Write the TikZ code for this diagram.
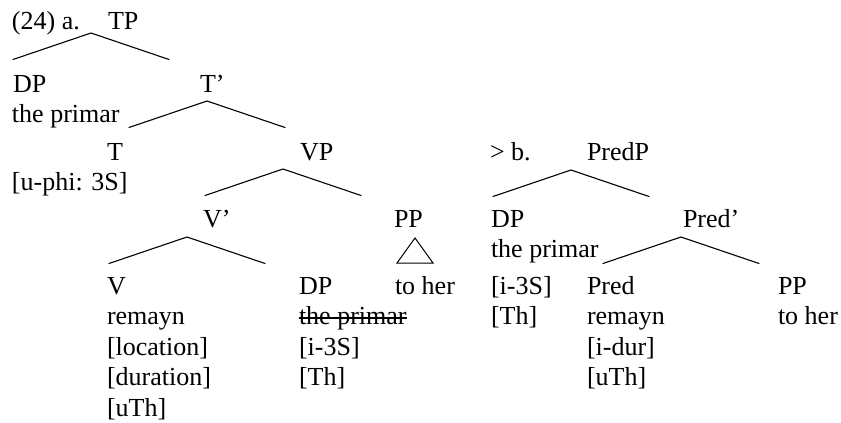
\documentclass[tikz,border=0pt]{standalone}
\usepackage{fontspec}
\setmainfont{Liberation Serif}
\begin{document}
\begin{tikzpicture}[x=1pt,y=-1pt,
  lbl/.style={anchor=base west, inner sep=0pt, outer sep=0pt, font=\fontsize{26}{30}\selectfont},
  branch/.style={line width=1.1pt, line cap=round, line join=miter},
  strike/.style={line width=1.3pt},
  tri/.style={line width=1pt, line join=miter}]
\useasboundingbox (0,0) rectangle (841,423);

% ---------- tree (a) ----------
\node[lbl] (exa)  at (12,29)  {(24) a.};
\node[lbl] (tp)   at (108,29) {TP};
\node[lbl] (dpA)  at (13,92)  {DP};
\node[lbl] (dpAw) at (12,122.5) {the primar};
\node[lbl] (tbar) at (200,92) {T’};
\node[lbl] (t)    at (107,160) {T};
\node[lbl] (tf)   at (12,190.5) {[u-phi: 3S]};
\node[lbl] (vp)   at (300,160) {VP};
\node[lbl] (vbar) at (203,227) {V’};
\node[lbl] (ppA)  at (394,227) {PP};
\node[lbl] (ppAw) at (395,294) {to her};
\node[lbl] (v)    at (107,294) {V};
\node[lbl] (v1)   at (107,324.5) {remayn};
\node[lbl] (v2)   at (107,355) {[location]};
\node[lbl] (v3)   at (107,385.5) {[duration]};
\node[lbl] (v4)   at (107,416) {[uTh]};
\node[lbl] (dpT)  at (299,294) {DP};
\node[lbl] (dpT1) at (299,324.5) {the primar};
\node[lbl] (dpT2) at (299,355) {[i-3S]};
\node[lbl] (dpT3) at (299,385.5) {[Th]};

% deleted copy of the subject
\draw[strike] ([yshift=6.5pt]dpT1.base west) -- ([yshift=6.5pt]dpT1.base east);

% ---------- tree (b) ----------
\node[lbl] (exb)  at (490,160) {> b.};
\node[lbl] (predp) at (587,160) {PredP};
\node[lbl] (dpB)  at (491,227) {DP};
\node[lbl] (dpB1) at (491,257.5) {the primar};
\node[lbl] (dpB2) at (491,294) {[i-3S]};
\node[lbl] (dpB3) at (491,324.5) {[Th]};
\node[lbl] (predbar) at (683,227) {Pred’};
\node[lbl] (pred)  at (587,294) {Pred};
\node[lbl] (pred1) at (587,324.5) {remayn};
\node[lbl] (pred2) at (587,355) {[i-dur]};
\node[lbl] (pred3) at (587,385.5) {[uTh]};
\node[lbl] (ppB)  at (778,294) {PP};
\node[lbl] (ppB1) at (778,324.5) {to her};

% ---------- branching points ----------
\coordinate (tpTop)    at (91,33);
\coordinate (tbarTop)  at (207,101);
\coordinate (vpTop)    at (283,169);
\coordinate (vbarTop)  at (187,237);
\coordinate (predpTop) at (571,170);
\coordinate (predbarTop) at (681,237);

\foreach \c in {tpTop,tbarTop,vpTop,vbarTop,predpTop,predbarTop}
  \draw[branch] ([shift={(-78,26.5)}]\c) -- (\c) -- ([shift={(78,26.5)}]\c);

% triangle over "to her"
\coordinate (triTop) at (415,238);
\draw[tri] (triTop) -- ([shift={(-18,25)}]triTop) -- ([shift={(18,25)}]triTop) -- cycle;
\end{tikzpicture}
\end{document}
